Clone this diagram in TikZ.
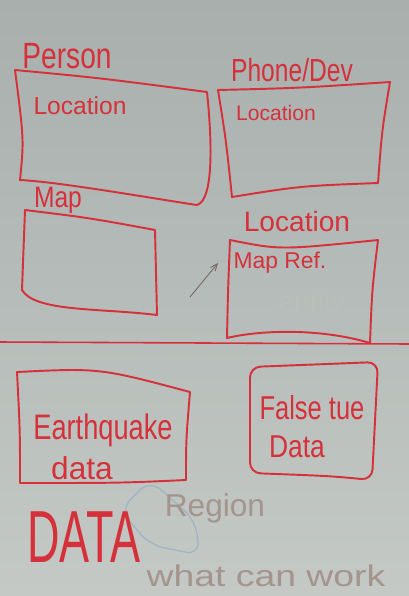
\documentclass[tikz,border=0pt]{standalone}
\usepackage{fontspec}
\usepackage{tikz}
\usetikzlibrary{arrows}
\setmainfont{Liberation Sans}
\definecolor{boardred}{RGB}{214,48,58}
\definecolor{boardtop}{RGB}{168,175,173}
\definecolor{boardbot}{RGB}{196,201,197}
\definecolor{ghost}{RGB}{165,148,142}
\definecolor{ghostblue}{RGB}{158,180,196}
\newcommand{\fs}[1]{\fontsize{#1}{#1}\selectfont}

\begin{document}
\begin{tikzpicture}[x=0.02cm,y=-0.02cm,
    marker/.style={draw=boardred, line width=1.1pt, line join=round, line cap=round},
    redtext/.style={text=boardred, inner sep=0pt},
    fainttext/.style={text=ghost, inner sep=0pt}]
            \shade[top color=boardtop, bottom color=boardbot] (0,0) rectangle (409,596);
            \useasboundingbox (0,0) rectangle (409,596);
            % upper half
            \node[redtext] (person) at (67,56) {\fs{16}\scalebox{1}[1.3]{Person}};
            \draw[marker] (15,70) .. controls (100,78) .. (207,92)
                .. controls (212,140) and (214,200) .. (197,205)
                .. controls (150,198) and (60,182) .. (20,180)
                .. controls (24,140) .. cycle;
            \node[redtext] (personloc) at (80,106) {\fs{14}Location};
            \node[redtext] (phone) at (292,70) {\fs{14}\scalebox{1}[1.3]{Phone/Dev}};
            \draw[marker] (218,90) .. controls (300,88) .. (390,82)
                .. controls (382,130) .. (378,183)
                .. controls (300,186) .. (232,197)
                .. controls (226,140) .. cycle;
            \node[redtext] (phoneloc) at (276,113) {\fs{12}Location};
            \node[redtext] (map) at (58,200) {\fs{14}\scalebox{1}[1.2]{Map}};
            \draw[marker] (25,210) .. controls (90,218) .. (155,230)
                -- (157,315)
                .. controls (100,308) and (35,312) .. (22,290)
                .. controls (24,250) .. cycle;
            \node[redtext] (location) at (297,221) {\fs{16}Location};
            \draw[marker] (230,240) .. controls (280,250) .. (378,240)
                .. controls (372,290) .. (370,343)
                .. controls (320,328) and (260,330) .. (227,338)
                .. controls (228,290) .. cycle;
            \node[redtext] (mapref) at (280,263) {\fs{13}Map Ref.};
            \node[text=boardbot!85!gray, inner sep=0pt] (entity) at (312,304) {\fs{16}entity};
            \coordinate (arrtail) at (190,297);
            \coordinate (arrhead) at (218,263);
            \draw[->, >=angle 45, draw=ghost!70!black, line width=0.5pt] (arrtail) -- (arrhead);
            % divider
            \draw[marker, line width=0.9pt] (0,342) -- (409,344);
            % lower half
            \draw[marker] (17,372) .. controls (100,368) .. (190,392)
                .. controls (186,440) .. (186,480)
                .. controls (120,483) .. (20,483)
                .. controls (20,430) .. cycle;
            \node[redtext] (quake) at (103,430) {\fs{15.5}\scalebox{1}[1.3]{Earthquake}};
            \node[redtext] (quakedata) at (82,468) {\fs{18}data};
            \draw[marker, rounded corners=6pt] (250,367) -- (378,362)
                -- (372,480) .. controls (330,476) .. (250,473) -- cycle;
            \node[redtext] (falsetrue) at (312,408) {\fs{14.5}\scalebox{1}[1.3]{False tue}};
            \node[redtext] (falsedata) at (297,447) {\fs{15}\scalebox{1}[1.2]{Data}};
            \draw[ghostblue, line width=0.7pt, rounded corners=8pt] (150,480) -- (195,520) -- (200,555) -- (150,545) -- (120,510) -- cycle;
            \node[fainttext] (region) at (215,508) {\fs{18}Region};
            \node[redtext] (data) at (84,537) {\fs{40}\scalebox{0.64}[1.05]{DATA}};
            \node[fainttext] (whatwork) at (266,576) {\fs{17}\scalebox{1.25}[1]{what can work}};
\end{tikzpicture}
\end{document}
